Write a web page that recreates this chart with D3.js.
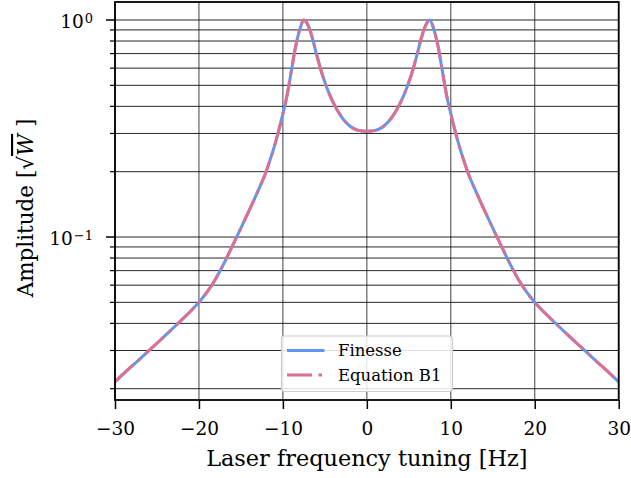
<!DOCTYPE html>
<html><head><meta charset="utf-8">
<script src="https://cdn.jsdelivr.net/npm/d3@7"></script>
<style>
body{margin:0;background:#fff}
svg{display:block}
text{font-family:"DejaVu Serif", serif; fill:#000}
</style>
</head><body>
<svg id="c" width="631" height="478"></svg>
<script>
// ---- data ----
const freq = [-30,-29,-28,-27,-26,-25,-24,-23,-22,-21,-20,-19,-18,-17,-16,-15,-14,-13,-12,
  -11.5,-11,-10.5,-10,-9.5,-9,-8.5,-8,-7.5,-7,-6.5,-6,-5.5,-5,-4.5,-4,-3.5,-3,-2.5,-2,-1.5,-1,-0.5,
  0,0.5,1,1.5,2,2.5,3,3.5,4,4.5,5,5.5,6,6.5,7,7.5,8,8.5,9,9.5,10,10.5,11,11.5,
  12,13,14,15,16,17,18,19,20,21,22,23,24,25,26,27,28,29,30];
const finesse = [0.0215,0.0234,0.0254,0.0275,0.0299,0.0324,0.0352,0.0383,0.0417,0.0455,0.0500,0.0560,0.0643,0.0759,0.0912,0.110,0.133,0.162,0.200,
  0.228,0.263,0.309,0.370,0.450,0.580,0.750,0.900,1.000,0.944,0.828,0.697,0.593,0.516,0.459,0.416,0.383,0.357,0.338,0.324,0.315,0.310,0.308,
  0.307,0.308,0.310,0.315,0.324,0.338,0.357,0.383,0.416,0.459,0.516,0.593,0.697,0.828,0.944,1.000,0.900,0.750,0.580,0.450,0.370,0.309,0.263,0.228,
  0.200,0.162,0.133,0.110,0.0912,0.0759,0.0643,0.0560,0.0500,0.0455,0.0417,0.0383,0.0352,0.0324,0.0299,0.0275,0.0254,0.0234,0.0215];
const equationB1 = [0.0215,0.0234,0.0254,0.0275,0.0299,0.0324,0.0352,0.0383,0.0417,0.0455,0.0500,0.0560,0.0643,0.0759,0.0912,0.110,0.133,0.162,0.200,
  0.228,0.263,0.309,0.370,0.450,0.580,0.750,0.900,1.000,0.944,0.828,0.697,0.593,0.516,0.459,0.416,0.383,0.357,0.338,0.324,0.315,0.310,0.308,
  0.307,0.308,0.310,0.315,0.324,0.338,0.357,0.383,0.416,0.459,0.516,0.593,0.697,0.828,0.944,1.000,0.900,0.750,0.580,0.450,0.370,0.309,0.263,0.228,
  0.200,0.162,0.133,0.110,0.0912,0.0759,0.0643,0.0560,0.0500,0.0455,0.0417,0.0383,0.0352,0.0324,0.0299,0.0275,0.0254,0.0234,0.0215];
const seriesNames = ["Finesse", "Equation B1"];
const xTicks = [-30,-20,-10,0,10,20,30];
const yMajorTicks = [0.1, 1];
const yMajorLabels = [["10","\u22121"],["10","0"]];
const yMinorTicks = [0.02,0.03,0.04,0.05,0.06,0.07,0.08,0.09,0.2,0.3,0.4,0.5,0.6,0.7,0.8,0.9];
const xLabel = "Laser frequency tuning [Hz]";

// ---- layout ----
const L = 115, R = 618.7, T = 2, B = 400;
const svg = d3.select("#c");
const x = d3.scaleLinear().domain([-30, 30]).range([L, R]);
const y = d3.scaleLog().domain([Math.pow(10,-1.751), Math.pow(10,0.0829)]).range([B, T]);

// grid
const g = svg.append("g");
g.selectAll(".gx").data(xTicks).join("line")
  .attr("x1", d => x(d)).attr("x2", d => x(d)).attr("y1", T).attr("y2", B)
  .attr("stroke", "#000").attr("stroke-opacity", 0.75).attr("stroke-width", 1);
g.selectAll(".gy").data(yMajorTicks.concat(yMinorTicks)).join("line")
  .attr("x1", L).attr("x2", R).attr("y1", d => y(d)).attr("y2", d => y(d))
  .attr("stroke", "#000").attr("stroke-opacity", 0.85).attr("stroke-width", 1);

// lines
const line = (vals) => d3.line().x((d,i) => x(freq[i])).y(d => y(d)).curve(d3.curveMonotoneX)(vals);
const blue = "#6495ed", pink = "#db7093";
const dash = "25,6.5,3.5,6.5";
svg.append("path").attr("d", line(finesse)).attr("fill","none").attr("stroke", blue).attr("stroke-width", 3);
svg.append("path").attr("d", line(equationB1)).attr("fill","none").attr("stroke", pink).attr("stroke-width", 3)
  .attr("stroke-dasharray", dash);

// spines
svg.append("rect").attr("x", L).attr("y", T).attr("width", R-L).attr("height", B-T)
  .attr("fill","none").attr("stroke","#000").attr("stroke-width",1.8);

// x axis ticks
const xa = svg.append("g").attr("transform", `translate(0,${B})`)
  .call(d3.axisBottom(x).tickValues(xTicks).tickSize(9).tickPadding(13)
    .tickFormat(d => d < 0 ? "\u2212" + Math.abs(d) : String(d)));
xa.select(".domain").remove();
xa.selectAll(".tick line").attr("stroke-width", 1.5);
xa.selectAll(".tick text").attr("font-size", 18.5).attr("font-family", "DejaVu Serif");

// y axis ticks
const ya = svg.append("g").attr("transform", `translate(${L},0)`);
ya.selectAll(".maj").data(yMajorTicks).join("line")
  .attr("x1", -9).attr("x2", 0).attr("y1", d => y(d)).attr("y2", d => y(d))
  .attr("stroke","#000").attr("stroke-width",1.5);
ya.selectAll(".min").data(yMinorTicks).join("line")
  .attr("x1", -5).attr("x2", 0).attr("y1", d => y(d)).attr("y2", d => y(d))
  .attr("stroke","#000").attr("stroke-width",1.2);
const yl = ya.selectAll(".lab").data(yMajorTicks).join("text")
  .attr("x", -22).attr("y", d => y(d) + 8).attr("text-anchor","end").attr("font-size", 18.5);
yl.append("tspan").text((d,i) => yMajorLabels[i][0]);
yl.append("tspan").attr("font-size", 13).attr("dy", -5).attr("dx", 1).text((d,i) => yMajorLabels[i][1]);

// axis labels
svg.append("text").attr("x", (L+R)/2).attr("y", 466).attr("text-anchor","middle")
  .attr("font-size", 22.4).text(xLabel);
const ylab = svg.append("text").attr("transform", "translate(33,208) rotate(-90)")
  .attr("text-anchor","middle").attr("font-size", 21.5);
ylab.append("tspan").text("Amplitude [");
ylab.append("tspan").text("\u221A");
ylab.append("tspan").attr("font-style","italic").attr("text-decoration","overline").text("W");
ylab.append("tspan").text(" ]");

// legend
const lg = svg.append("g");
lg.append("rect").attr("x", 281.5).attr("y", 336).attr("width", 171).attr("height", 55.5)
  .attr("rx", 3).attr("fill", "#fff").attr("fill-opacity", 0.85).attr("stroke", "#cccccc").attr("stroke-width", 1.2);
const items = [{name: seriesNames[0], color: blue, dash: null, yy: 350.5},
               {name: seriesNames[1], color: pink, dash: dash, yy: 375}];
items.forEach(it => {
  lg.append("line").attr("x1", 287).attr("x2", 324.5).attr("y1", it.yy).attr("y2", it.yy)
    .attr("stroke", it.color).attr("stroke-width", 3).attr("stroke-dasharray", it.dash);
  lg.append("text").attr("x", 338).attr("y", it.yy).attr("dy","0.35em").attr("font-size", 16.5).text(it.name);
});
</script>
</body></html>
